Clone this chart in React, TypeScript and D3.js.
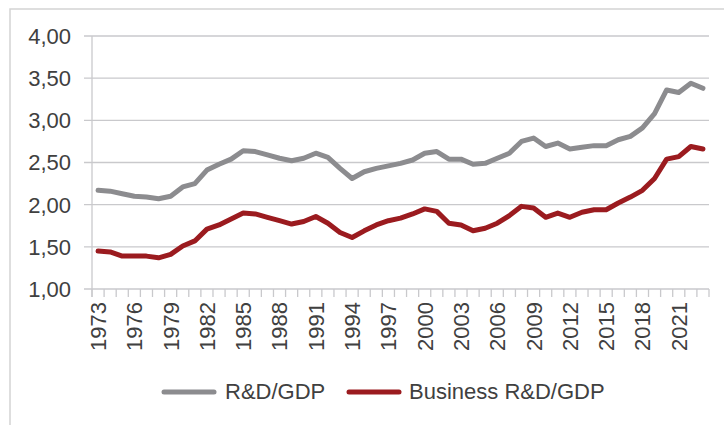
import React from "react";
import * as d3 from "d3";

// years 1973 - 2023
const years = d3.range(1973, 2024);

const rdGdp = [
  2.17, 2.16, 2.13, 2.1, 2.09, 2.07, 2.1, 2.21, 2.25, 2.41,
  2.48, 2.54, 2.64, 2.63, 2.59, 2.55, 2.52, 2.55, 2.61, 2.56,
  2.43, 2.31, 2.39, 2.43, 2.46, 2.49, 2.53, 2.61, 2.63, 2.54,
  2.54, 2.48, 2.49, 2.55, 2.61, 2.75, 2.79, 2.69, 2.73, 2.66,
  2.68, 2.7, 2.7, 2.77, 2.81, 2.91, 3.08, 3.36, 3.33, 3.44,
  3.38,
];

const businessRdGdp = [
  1.45, 1.44, 1.39, 1.39, 1.39, 1.37, 1.41, 1.51, 1.57, 1.71,
  1.76, 1.83, 1.9, 1.89, 1.85, 1.81, 1.77, 1.8, 1.86, 1.78,
  1.67, 1.61, 1.69, 1.76, 1.81, 1.84, 1.89, 1.95, 1.92, 1.78,
  1.76, 1.69, 1.72, 1.78, 1.87, 1.98, 1.96, 1.85, 1.9, 1.85,
  1.91, 1.94, 1.94, 2.02, 2.09, 2.17, 2.31, 2.54, 2.57, 2.69,
  2.66,
];

const yTicks = [1, 1.5, 2, 2.5, 3, 3.5, 4];
const labelEvery = 3;

const seriesNames = ["R&D/GDP", "Business R&D/GDP"];
const seriesColors = ["#8c8c8f", "#9b1b1f"];

const W = 724;
const H = 425;
const left = 92;
const right = 709;
const top = 36;
const bottom = 289;
const font = "'Liberation Sans', Arial, sans-serif";
const textColor = "#404040";

export default function App() {
  const x = d3.scaleBand<number>().domain(years).range([left, right]).padding(0);
  const y = d3.scaleLinear().domain([1, 4]).range([bottom, top]);
  const cx = (yr: number) => (x(yr) as number) + x.bandwidth() / 2;

  const line = d3
    .line<number>()
    .x((_, i) => cx(years[i]))
    .y((d) => y(d));

  const fmt = (v: number) => v.toFixed(2).replace(".", ",");
  const series = [rdGdp, businessRdGdp];

  // tick positions on band edges
  const edges = years.map((yr) => x(yr) as number).concat([right]);

  return (
    <svg
      width={W}
      height={H}
      style={{ position: "absolute", left: 0, top: 0, background: "#fff" }}
    >
      <rect x={10} y={9} width={800} height={600} fill="none" stroke="#d4d4d4" strokeWidth={1.5} />

      {yTicks.map((t) => (
        <g key={t}>
          <line x1={left - 8} x2={right} y1={y(t)} y2={y(t)} stroke="#c9c9cc" strokeWidth={1.3} />
          <text
            x={71}
            y={y(t)}
            dy="0.36em"
            textAnchor="end"
            fontFamily={font}
            fontSize={22}
            fill={textColor}
          >
            {fmt(t)}
          </text>
        </g>
      ))}

      <line x1={left} x2={left} y1={top} y2={bottom + 8} stroke="#c9c9cc" strokeWidth={1.3} />
      {edges.map((e, i) => (
        <line key={i} x1={e} x2={e} y1={bottom} y2={bottom + 8} stroke="#c9c9cc" strokeWidth={1.3} />
      ))}

      {years
        .filter((_, i) => i % labelEvery === 0)
        .map((yr) => (
          <text
            key={yr}
            transform={`translate(${cx(yr)},${bottom + 13}) rotate(-90)`}
            dy="0.36em"
            textAnchor="end"
            fontFamily={font}
            fontSize={22}
            fill={textColor}
          >
            {yr}
          </text>
        ))}

      {series.map((s, i) => (
        <path
          key={i}
          d={line(s) as string}
          fill="none"
          stroke={seriesColors[i]}
          strokeWidth={5}
          strokeLinejoin="round"
          strokeLinecap="round"
        />
      ))}

      <g fontFamily={font} fontSize={22} fill={textColor}>
        <line x1={164} x2={214} y1={392} y2={392} stroke={seriesColors[0]} strokeWidth={5} strokeLinecap="round" />
        <text x={225} y={399}>{seriesNames[0]}</text>
        <line x1={349} x2={399} y1={392} y2={392} stroke={seriesColors[1]} strokeWidth={5} strokeLinecap="round" />
        <text x={409} y={399}>{seriesNames[1]}</text>
      </g>
    </svg>
  );
}
